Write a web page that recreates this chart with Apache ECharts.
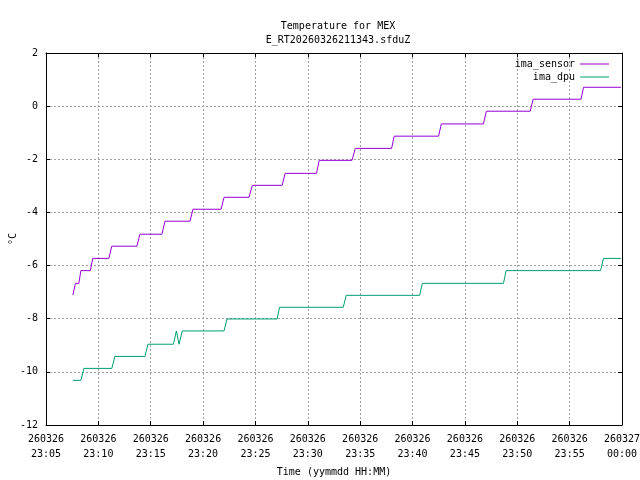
<!DOCTYPE html>
<html>
<head>
<meta charset="utf-8">
<script src="https://cdn.jsdelivr.net/npm/echarts@6/dist/echarts.min.js"></script>
<style>html,body{margin:0;padding:0;background:#fff}#c{width:640px;height:480px}</style>
</head>
<body>
<div id="c"></div>
<script>
var titleLines = ['Temperature for MEX', 'E_RT20260326211343.sfduZ'];
var seriesNames = ['ima_sensor', 'ima_dpu'];
var yTicks = [-12, -10, -8, -6, -4, -2, 0, 2];
var xStart = '23:05:00';
var xEnd = '24:00:00';

var sensorTimes = ['23:07:34','23:07:49','23:08:08','23:08:20','23:09:14','23:09:28','23:11:00','23:11:17','23:13:41','23:13:58','23:16:04','23:16:22','23:18:45','23:19:02','23:21:43','23:22:00','23:24:23','23:24:42','23:27:33','23:27:50','23:30:50','23:31:05','23:34:13','23:34:32','23:38:00','23:38:15','23:42:29','23:42:45','23:46:46','23:47:03','23:51:14','23:51:31','23:56:05','23:56:20','23:59:54'];
var sensorValues = [-7.11,-6.67,-6.67,-6.19,-6.19,-5.73,-5.73,-5.27,-5.27,-4.82,-4.82,-4.33,-4.33,-3.88,-3.88,-3.43,-3.43,-2.98,-2.98,-2.53,-2.53,-2.04,-2.04,-1.59,-1.59,-1.13,-1.13,-0.67,-0.67,-0.19,-0.19,0.26,0.26,0.71,0.71];

var dpuTimes = ['23:07:34','23:08:20','23:08:37','23:11:17','23:11:35','23:14:27','23:14:44','23:17:10','23:17:27','23:17:42','23:18:01','23:22:00','23:22:17','23:27:04','23:27:18','23:33:23','23:33:40','23:40:41','23:40:56','23:48:41','23:48:56','23:57:57','23:58:14','23:59:54'];
var dpuValues = [-10.32,-10.32,-9.87,-9.87,-9.42,-9.42,-8.96,-8.96,-8.46,-8.96,-8.46,-8.46,-8.01,-8.01,-7.57,-7.57,-7.12,-7.12,-6.67,-6.67,-6.19,-6.19,-5.73,-5.73];

function sec(s){var p=s.split(':');return (+p[0])*3600+(+p[1])*60+(+p[2]);}
function pairs(t,v){return t.map(function(x,i){return [sec(x),v[i]];});}
function pad(n){return (n<10?'0':'')+n;}
function fmtX(v){
  var d='260326';
  if(v>=86400){v-=86400;d='260327';}
  var h=Math.floor(v/3600),m=Math.floor((v%3600)/60);
  return d+'\n'+pad(h)+':'+pad(m);
}

var FONT='DejaVu Sans Mono';
var FS=10;
var chart=echarts.init(document.getElementById('c'),null,{renderer:'canvas'});
var xMin=sec(xStart), xMax=sec(xEnd);
var axisLine={show:true,onZero:false,lineStyle:{color:'#000',width:1}};
var grid={left:46,right:18,top:53,bottom:55,containLabel:false,outerBoundsMode:'none'};
var gridLine={show:true,lineStyle:{color:'#a0a0a0',type:[2,2],width:1}};
chart.setOption({
  animation:false,
  backgroundColor:'#fff',
  textStyle:{fontFamily:FONT,fontSize:FS,color:'#000'},
  title:{text:titleLines.join('\n'),left:333,top:14,textAlign:'center',
    textStyle:{fontFamily:FONT,fontSize:FS,fontWeight:'normal',color:'#000',lineHeight:14}},
  legend:[
    {data:[seriesNames[0]],right:31,top:59,padding:0,align:'right',icon:'rect',itemWidth:29,itemHeight:1,
     textStyle:{fontFamily:FONT,fontSize:FS,color:'#000'}},
    {data:[seriesNames[1]],right:31,top:72,padding:0,align:'right',icon:'rect',itemWidth:29,itemHeight:1,
     textStyle:{fontFamily:FONT,fontSize:FS,color:'#000'}}
  ],
  grid:grid,
  xAxis:[
    {type:'value',min:xMin,max:xMax,interval:300,position:'bottom',
     name:'Time (yymmdd HH:MM)',nameLocation:'middle',nameGap:42,
     nameTextStyle:{fontFamily:FONT,fontSize:FS,color:'#000'},
     axisLine:axisLine,axisTick:{show:true,inside:true,length:4,lineStyle:{color:'#000'}},
     axisLabel:{formatter:fmtX,fontFamily:FONT,fontSize:FS,color:'#000',margin:7,lineHeight:15,hideOverlap:false},
     splitLine:gridLine},
    {type:'value',min:xMin,max:xMax,interval:300,position:'top',
     axisLine:axisLine,axisTick:{show:true,inside:true,length:4,lineStyle:{color:'#000'}},
     axisLabel:{show:false},splitLine:{show:false}}
  ],
  yAxis:[
    {type:'value',min:yTicks[0],max:yTicks[yTicks.length-1],interval:2,position:'left',
     name:'°C',nameLocation:'middle',nameGap:28,nameMoveOverlap:false,
     nameTextStyle:{fontFamily:FONT,fontSize:FS,color:'#000'},
     axisLine:axisLine,axisTick:{show:true,inside:true,length:4,lineStyle:{color:'#000'}},
     axisLabel:{fontFamily:FONT,fontSize:FS,color:'#000',margin:8},
     splitLine:gridLine},
    {type:'value',min:yTicks[0],max:yTicks[yTicks.length-1],interval:2,position:'right',
     axisLine:axisLine,axisTick:{show:true,inside:true,length:4,lineStyle:{color:'#000'}},
     axisLabel:{show:false},splitLine:{show:false}}
  ],
  series:[
    {name:seriesNames[0],type:'line',data:pairs(sensorTimes,sensorValues),showSymbol:false,symbol:'none',
     color:'#9400d3',lineStyle:{color:'#9400d3',width:1}},
    {name:seriesNames[1],type:'line',data:pairs(dpuTimes,dpuValues),showSymbol:false,symbol:'none',
     color:'#009e73',lineStyle:{color:'#009e73',width:1}}
  ]
});
</script>
</body>
</html>
